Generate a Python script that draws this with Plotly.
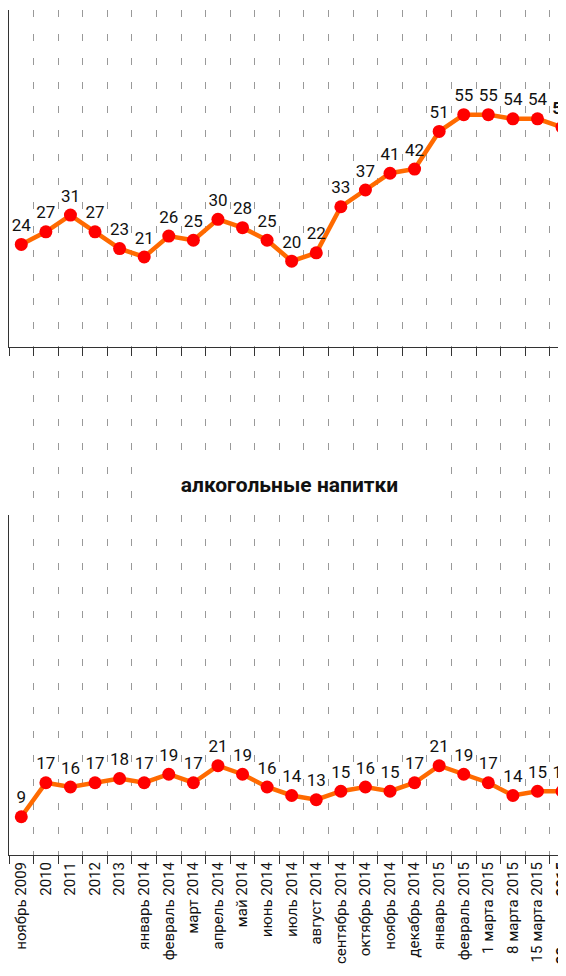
import plotly.graph_objects as go

categories = ["ноябрь 2009", "2010", "2011", "2012", "2013", "январь 2014", "февраль 2014",
              "март 2014", "апрель 2014", "май 2014", "июнь 2014", "июль 2014", "август 2014",
              "сентябрь 2014", "октябрь 2014", "ноябрь 2014", "декабрь 2014", "январь 2015",
              "февраль 2015", "1 марта 2015", "8 марта 2015", "15 марта 2015", "22 марта 2015"]
top_values = [24, 27, 31, 27, 23, 21, 26, 25, 30, 28, 25, 20, 22, 33, 37, 41, 42, 51, 55, 55, 54, 54, 52]
alcohol_values = [9, 17, 16, 17, 18, 17, 19, 17, 21, 19, 16, 14, 13, 15, 16, 15, 17, 21, 19, 17, 14, 15, 15]
panel_title = "алкогольные напитки"

tick_text = categories[:-1] + ["<b>" + categories[-1] + "</b>"]
top_text = [str(v) for v in top_values[:-1]] + ["<b>" + str(top_values[-1]) + "</b>"]
alc_text = [str(v) for v in alcohol_values]

FONT = "Roboto, Open Sans, sans-serif"
LINE_C = "#FF6A00"
MARK_C = "#FF0000"

def series(y, text, yaxis, xaxis):
    return go.Scatter(
        x=categories, y=y, text=text, mode="lines+markers+text",
        textposition="top center",
        textfont=dict(family=FONT, size=17, color="#111"),
        line=dict(color=LINE_C, width=4.5),
        marker=dict(color=MARK_C, size=13),
        cliponaxis=False, xaxis=xaxis, yaxis=yaxis, showlegend=False, hoverinfo="x+y")

fig = go.Figure()
fig.add_trace(series(top_values, top_text, "y3", "x3"))
fig.add_trace(go.Scatter(x=categories, y=[None] * len(categories), mode="none",
                         xaxis="x2", yaxis="y2", showlegend=False, hoverinfo="skip"))
fig.add_trace(series(alcohol_values, alc_text, "y", "x"))

xr = [-0.5, 22.16]
grid = dict(showgrid=True, gridcolor="#999999", gridwidth=1, griddash="7px,17px",
            tickson="boundaries", type="category", range=xr, fixedrange=True,
            automargin=False)

d1, d2 = 0.4024, 0.6012
fig.update_layout(
    width=558, height=968,
    margin=dict(l=1, r=0, t=2, b=121, autoexpand=False),
    paper_bgcolor="white", plot_bgcolor="white",
    font=dict(family=FONT, size=15, color="#111"),
    xaxis=dict(**grid, anchor="y", showline=True, linecolor="#333", linewidth=1,
               ticks="outside", ticklen=8, tickcolor="#333",
               tickangle=-90, tickmode="array", tickvals=categories, ticktext=tick_text,
               tickfont=dict(family=FONT, size=15, color="#111")),
    xaxis2=dict(**grid, anchor="y2", matches="x", showline=False, ticks="",
                showticklabels=False),
    xaxis3=dict(**grid, anchor="y3", matches="x", showline=True, linecolor="#333", linewidth=1,
                ticks="outside", ticklen=8, tickcolor="#333", showticklabels=False),
    yaxis=dict(domain=[0, d1], range=[0, 80], showgrid=False, zeroline=False, automargin=False,
               showline=True, linecolor="#333", linewidth=1, showticklabels=False, ticks=""),
    yaxis2=dict(domain=[d1, d2], range=[0, 1], visible=False),
    yaxis3=dict(domain=[d2, 1], range=[-0.5, 80], showgrid=False, zeroline=False, automargin=False,
                showline=True, linecolor="#333", linewidth=1, showticklabels=False, ticks=""),
    annotations=[dict(text="<b>" + panel_title + "</b>", xref="paper", yref="paper",
                      x=0.504, y=0.438, showarrow=False, bgcolor="white",
                      width=305, height=48,
                      font=dict(family=FONT, size=21, color="#111"))],
)

fig.write_html("out.html")
